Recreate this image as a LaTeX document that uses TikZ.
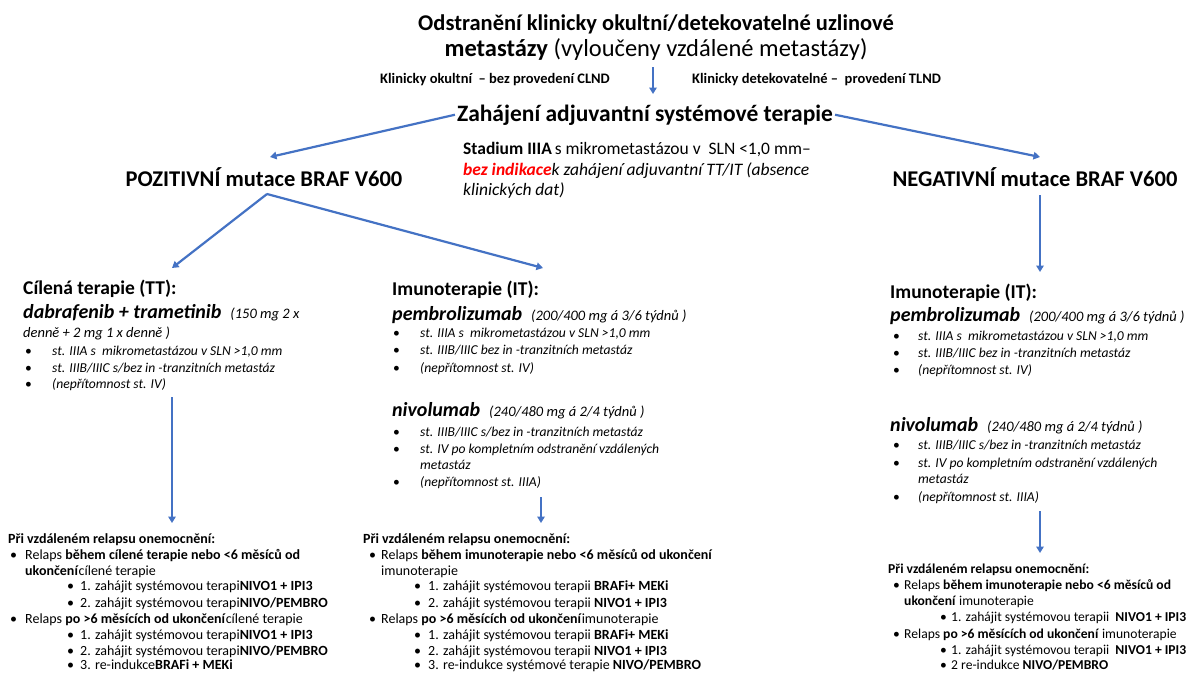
\documentclass[tikz,border=0pt]{standalone}
\usepackage{fontspec}
\setmainfont{Carlito}
\usetikzlibrary{arrows.meta,calc}
\definecolor{arrblue}{RGB}{68,114,196}
\definecolor{redtxt}{RGB}{255,0,0}
\newcommand{\fz}[1]{\fontsize{#1}{#1}\selectfont}
\newcommand{\bu}[1]{\makebox[#1][l]{\upshape\mdseries •}}
\begin{document}
\begin{tikzpicture}[x=1pt,y=-1pt,
  t/.style={inner sep=0pt, anchor=base west},
  tc/.style={inner sep=0pt, anchor=base},
  head/.style={tc, font=\fz{22.5}\bfseries},
  small/.style={t, font=\fz{14.5}\bfseries},
  mid/.style={t, font=\fz{17.5}},
  sect/.style={t, font=\fz{19.5}\bfseries},
  drug/.style={t, font=\fz{20}\bfseries\itshape},
  item/.style={t, font=\fz{13.6}\itshape},
  dose/.style={t, font=\fz{14.5}\itshape},
  bot/.style={t, font=\fz{14}},
  botr/.style={t, font=\fz{13.6}},
  arr/.style={draw=arrblue, line width=2.2pt, -{Triangle[length=6.5pt,width=7.5pt]}}
]
\fill[white] (0,0) rectangle (1186,672);
\useasboundingbox (0,0) rectangle (1186,672);

% title
\node[head] (t1) at (656,30) {Odstranění klinicky okultní/detekovatelné uzlinové};
\node[tc, font=\fz{24.5}] (t2) at (656,56) {\textbf{metastázy} (vyloučeny vzdálené metastázy)};
\node[small] (k1) at (380,83) {Klinicky okultní \ – bez provedení CLND};
\node[small] (k2) at (692,83) {Klinicky detekovatelné – \ provedení TLND};
\node[tc, font=\fz{23.5}\bfseries] (zah) at (645,121) {Zahájení adjuvantní systémové terapie};

\node[head] (poz) at (264,186) {POZITIVNÍ mutace BRAF V600};
\node[head] (neg) at (1035,186) {NEGATIVNÍ mutace BRAF V600};

\node[mid] (s1) at (463,154) {\textbf{Stadium IIIA}\,s mikrometastázou v \ SLN <1,0 mm–};
\node[mid] (s2) at (463,175) {\itshape\textcolor{redtxt}{\bfseries bez indikace}k zahájení adjuvantní TT/IT (absence};
\node[mid] (s3) at (463,195) {\itshape klinických dat)};

% TT block
\node[sect] (tt1) at (23,294) {Cílená terapie (TT):};
\node[drug] (tt2) at (23,318) {dabrafenib + trametinib\ \ {\fz{14.5}\mdseries(150 mg 2 x}};
\node[dose] (tt3) at (23,337) {denně + 2 mg 1 x denně )};
\node[item] (tt4) at (25,355) {\bu{27pt}st. IIIA s \ mikrometastázou v SLN >1,0 mm};
\node[item] (tt5) at (25,372) {\bu{27pt}st. IIIB/IIIC s/bez in -tranzitních metastáz};
\node[item] (tt6) at (25,388) {\bu{27pt}(nepřítomnost st. IV)};

% IT middle
\node[sect] (im1) at (392,295) {Imunoterapie (IT):};
\node[drug] (im2) at (392,320) {pembrolizumab\ \ {\fz{14.5}\mdseries(200/400 mg á 3/6 týdnů )}};
\node[item] (im3) at (393,337) {\bu{27pt}st. IIIA s \ mikrometastázou v SLN >1,0 mm};
\node[item] (im4) at (393,354) {\bu{27pt}st. IIIB/IIIC bez in -tranzitních metastáz};
\node[item] (im5) at (393,372) {\bu{27pt}(nepřítomnost st. IV)};
\node[drug] (im6) at (392,416) {nivolumab\ \ {\fz{14.5}\mdseries(240/480 mg á 2/4 týdnů )}};
\node[item] (im7) at (393,436) {\bu{27pt}st. IIIB/IIIC s/bez in -tranzitních metastáz};
\node[item] (im8) at (393,453) {\bu{27pt}st. IV po kompletním odstranění vzdálených};
\node[item] (im9) at (420,469) {metastáz};
\node[item] (im10) at (393,486) {\bu{27pt}(nepřítomnost st. IIIA)};

% IT right
\node[sect] (ir1) at (890,298) {Imunoterapie (IT):};
\node[drug] (ir2) at (890,321) {pembrolizumab\ \ {\fz{14.5}\mdseries(200/400 mg á 3/6 týdnů )}};
\node[item] (ir3) at (893,340) {\bu{25pt}st. IIIA s \ mikrometastázou v SLN >1,0 mm};
\node[item] (ir4) at (893,357) {\bu{25pt}st. IIIB/IIIC bez in -tranzitních metastáz};
\node[item] (ir5) at (893,374) {\bu{25pt}(nepřítomnost st. IV)};
\node[drug] (ir6) at (890,431) {nivolumab\ \ {\fz{14.5}\mdseries(240/480 mg á 2/4 týdnů )}};
\node[item] (ir7) at (893,449) {\bu{25pt}st. IIIB/IIIC s/bez in -tranzitních metastáz};
\node[item] (ir8) at (893,467) {\bu{25pt}st. IV po kompletním odstranění vzdálených};
\node[item] (ir9) at (918,483) {metastáz};
\node[item] (ir10) at (893,501) {\bu{25pt}(nepřítomnost st. IIIA)};

% bottom left
\node[bot] (bl0) at (8,543) {\textbf{Při vzdáleném relapsu onemocnění:}};
\node[bot] (bl1) at (10,559) {\bu{15pt}Relaps \textbf{během cílené terapie nebo <6 měsíců od}};
\node[bot] (bl2) at (25,575) {\textbf{ukončení}cílené terapie};
\node[bot] (bl3) at (67,590) {\bu{13pt}1. zahájit systémovou terapi\textbf{NIVO1 + IPI3}};
\node[bot] (bl4) at (67,607) {\bu{13pt}2. zahájit systémovou terapi\textbf{NIVO/PEMBRO}};
\node[bot] (bl5) at (10,623) {\bu{15pt}Relaps \textbf{po >6 měsících od ukončení}cílené terapie};
\node[bot] (bl6) at (67,639) {\bu{13pt}1. zahájit systémovou terapi\textbf{NIVO1 + IPI3}};
\node[bot] (bl7) at (67,655) {\bu{13pt}2. zahájit systémovou terapi\textbf{NIVO/PEMBRO}};
\node[bot] (bl8) at (67,669) {\bu{13pt}3. re-indukce\textbf{BRAFi + MEKi}};

% bottom middle
\node[bot] (bm0) at (363,543) {\textbf{Při vzdáleném relapsu onemocnění:}};
\node[bot] (bm1) at (369,559) {\bu{12pt}Relaps \textbf{během imunoterapie nebo <6 měsíců od ukončení}};
\node[bot] (bm2) at (381,575) {imunoterapie};
\node[bot] (bm3) at (414,590) {\bu{14pt}1. zahájit systémovou terapii \textbf{BRAFi+ MEKi}};
\node[bot] (bm4) at (414,607) {\bu{14pt}2. zahájit systémovou terapii \textbf{NIVO1 + IPI3}};
\node[bot] (bm5) at (369,623) {\bu{12pt}Relaps \textbf{po >6 měsících od ukončení}imunoterapie};
\node[bot] (bm6) at (414,639) {\bu{14pt}1. zahájit systémovou terapii \textbf{BRAFi+ MEKi}};
\node[bot] (bm7) at (414,655) {\bu{14pt}2. zahájit systémovou terapii \textbf{NIVO1 + IPI3}};
\node[bot] (bm8) at (414,669) {\bu{14pt}3. re-indukce systémové terapie \textbf{NIVO/PEMBRO}};

% bottom right
\node[botr] (br0) at (888,573) {\textbf{Při vzdáleném relapsu onemocnění:}};
\node[botr] (br1) at (893,589) {\bu{11pt}Relaps \textbf{během imunoterapie nebo <6 měsíců od}};
\node[botr] (br2) at (904,605) {\textbf{ukončení} imunoterapie};
\node[botr] (br3) at (940,621) {\bu{11pt}1. zahájit systémovou terapii \ \textbf{NIVO1 + IPI3}};
\node[botr] (br4) at (893,638) {\bu{11pt}Relaps \textbf{po >6 měsících od ukončení} imunoterapie};
\node[botr] (br5) at (940,654) {\bu{11pt}1. zahájit systémovou terapii \ \textbf{NIVO1 + IPI3}};
\node[botr] (br6) at (940,669) {\bu{11pt}2 re-indukce \textbf{NIVO/PEMBRO}};

% arrow end points
\coordinate (a0s) at (653,67);
\coordinate (a0e) at (653,94);
\coordinate (pozIn) at (270,157);
\coordinate (negIn) at (1040,157);
\coordinate (pozOut) at (267,194);
\coordinate (ttIn) at (172,268);
\coordinate (itIn) at (543,268);
\coordinate (negOut) at (1040,195);
\coordinate (irIn) at (1040,272);
\coordinate (ttOut) at (172,397);
\coordinate (blIn) at (172,523);
\coordinate (imOut) at (541,497);
\coordinate (bmIn) at (541,523);
\coordinate (irOut) at (1040,511);
\coordinate (brIn) at (1040,553);

\draw[arr] (a0s) -- (a0e);
\draw[arr] ([xshift=-2pt]zah.west) -- (pozIn);
\draw[arr] ([xshift=2pt]zah.east) -- (negIn);
\draw[arr] (pozOut) -- (ttIn);
\draw[arr] (pozOut) -- (itIn);
\draw[arr] (negOut) -- (irIn);
\draw[arr] (ttOut) -- (blIn);
\draw[arr] (imOut) -- (bmIn);
\draw[arr] (irOut) -- (brIn);
\end{tikzpicture}
\end{document}
